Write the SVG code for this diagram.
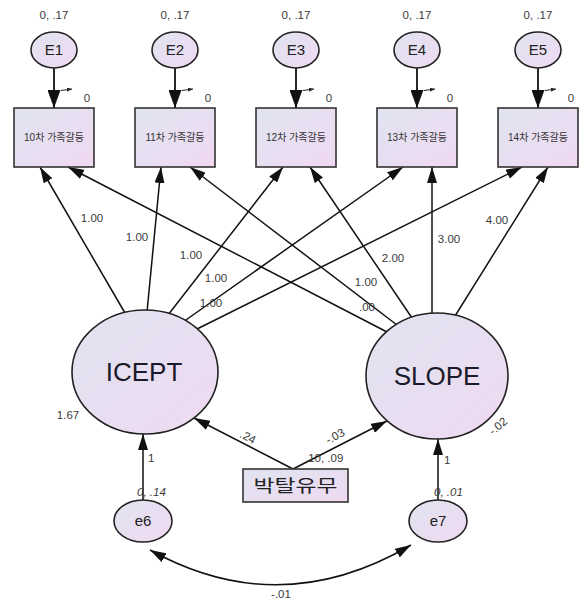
<svg xmlns="http://www.w3.org/2000/svg" width="581" height="603" viewBox="0 0 581 603">
  <defs>
    <linearGradient id="fillGrad" x1="0" y1="0" x2="1" y2="1">
      <stop offset="0" stop-color="#e0e4f1"/>
      <stop offset="1" stop-color="#f0d9f1"/>
    </linearGradient>
    <marker id="arrow" viewBox="0 0 16 10" refX="16" refY="5" markerWidth="16" markerHeight="10" markerUnits="userSpaceOnUse" orient="auto">
      <path d="M0,0 L16,5 L0,10 z" fill="#111"/>
    </marker>
    <marker id="arrowStart" viewBox="0 0 16 10" refX="0" refY="5" markerWidth="16" markerHeight="10" markerUnits="userSpaceOnUse" orient="auto">
      <path d="M16,0 L0,5 L16,10 z" fill="#111"/>
    </marker>
    <marker id="arrowBig" viewBox="0 0 18 13" refX="18" refY="6.5" markerWidth="18" markerHeight="13" markerUnits="userSpaceOnUse" orient="auto">
      <path d="M0,0 L18,6.5 L0,13 z" fill="#111"/>
    </marker>
    <marker id="tick" viewBox="0 0 5 4" refX="5" refY="2" markerWidth="5" markerHeight="4" markerUnits="userSpaceOnUse" orient="auto">
      <path d="M0,0 L5,2 L0,4 z" fill="#222"/>
    </marker>
    <style>
      .node { fill: url(#fillGrad); stroke: #222; stroke-width: 1.6; }
      .box { fill: url(#fillGrad); stroke: #333; stroke-width: 1.6; }
      .edge { fill: none; stroke: #111; stroke-width: 1.5; marker-end: url(#arrow); }
      .edgeBig { fill: none; stroke: #111; stroke-width: 1.8; marker-end: url(#arrowBig); }
      .cov { fill: none; stroke: #111; stroke-width: 1.5; marker-start: url(#arrowStart); marker-end: url(#arrow); }
      .mark { fill: none; stroke: #222; stroke-width: 1; marker-end: url(#tick); }
      .lbl { font-family: "Liberation Sans", Arial, sans-serif; font-size: 11.5px; fill: #3a3a3a; }
      .ital { font-style: italic; }
      .ename { font-family: "Liberation Sans", Arial, sans-serif; font-size: 15px; fill: #222; text-anchor: middle; }
      .obs { font-family: "Liberation Sans", "Noto Sans CJK KR", sans-serif; font-size: 10px; fill: #333; text-anchor: middle; }
      .big { font-family: "Liberation Sans", Arial, sans-serif; font-size: 26px; fill: #1a1a2a; text-anchor: middle; }
      .mid { text-anchor: middle; }
    </style>
  </defs>

  <rect width="581" height="603" fill="#ffffff"/>

  <!-- connectors -->
  <g id="connectors">
    <!-- error terms to observed variables -->
    <line class="edgeBig" x1="54" y1="68" x2="54" y2="108"/>
    <line class="edgeBig" x1="175" y1="68" x2="175" y2="108"/>
    <line class="edgeBig" x1="296" y1="68" x2="296" y2="108"/>
    <line class="edgeBig" x1="417" y1="68" x2="417" y2="108"/>
    <line class="edgeBig" x1="538" y1="68" x2="538" y2="108"/>

    <!-- intercept loadings -->
    <line class="edge" x1="125" y1="313" x2="40" y2="167"/>
    <line class="edge" x1="147" y1="312" x2="161" y2="167"/>
    <line class="edge" x1="168" y1="315" x2="283" y2="167"/>
    <line class="edge" x1="183" y1="322" x2="403" y2="167"/>
    <line class="edge" x1="195" y1="330" x2="522" y2="167"/>

    <!-- slope loadings -->
    <line class="edge" x1="387" y1="332" x2="68" y2="167"/>
    <line class="edge" x1="397" y1="325" x2="190" y2="167"/>
    <line class="edge" x1="412" y1="318" x2="310" y2="167"/>
    <line class="edge" x1="432" y1="313" x2="432" y2="167"/>
    <line class="edge" x1="455" y1="316" x2="548" y2="167"/>

    <!-- covariate paths -->
    <line class="edge" x1="293" y1="469" x2="194" y2="418"/>
    <line class="edge" x1="293" y1="469" x2="387" y2="421"/>

    <!-- residuals of growth factors -->
    <line class="edge" x1="143" y1="500" x2="143" y2="434"/>
    <line class="edge" x1="438" y1="500" x2="438" y2="439"/>

    <!-- residual covariance -->
    <path class="cov" d="M150,550 Q280,622 411,545"/>

    <!-- intercept ticks -->
    <line class="mark" x1="61" y1="90.5" x2="72" y2="89"/>
    <line class="mark" x1="182" y1="90.5" x2="193" y2="89"/>
    <line class="mark" x1="303" y1="90.5" x2="314" y2="89"/>
    <line class="mark" x1="424" y1="90.5" x2="435" y2="89"/>
    <line class="mark" x1="545" y1="90.5" x2="556" y2="89"/>
  </g>

  <!-- error terms E1..E5 -->
  <g id="E1"><ellipse class="node" cx="54" cy="50" rx="23" ry="18"/><text class="ename" x="54" y="55">E1</text><text class="lbl mid" x="54" y="19">0, .17</text></g>
  <g id="E2"><ellipse class="node" cx="175" cy="50" rx="23" ry="18"/><text class="ename" x="175" y="55">E2</text><text class="lbl mid" x="175" y="19">0, .17</text></g>
  <g id="E3"><ellipse class="node" cx="296" cy="50" rx="23" ry="18"/><text class="ename" x="296" y="55">E3</text><text class="lbl mid" x="296" y="19">0, .17</text></g>
  <g id="E4"><ellipse class="node" cx="417" cy="50" rx="23" ry="18"/><text class="ename" x="417" y="55">E4</text><text class="lbl mid" x="417" y="19">0, .17</text></g>
  <g id="E5"><ellipse class="node" cx="538" cy="50" rx="23" ry="18"/><text class="ename" x="538" y="55">E5</text><text class="lbl mid" x="538" y="19">0, .17</text></g>

  <!-- observed variables -->
  <g id="obs10"><rect class="box" x="14" y="108" width="80" height="59"/><text class="obs" x="54" y="141">10차 가족갈등</text><text class="lbl mid" x="87" y="102">0</text></g>
  <g id="obs11"><rect class="box" x="135" y="108" width="80" height="59"/><text class="obs" x="175" y="141">11차 가족갈등</text><text class="lbl mid" x="208" y="102">0</text></g>
  <g id="obs12"><rect class="box" x="256" y="108" width="80" height="59"/><text class="obs" x="296" y="141">12차 가족갈등</text><text class="lbl mid" x="329" y="102">0</text></g>
  <g id="obs13"><rect class="box" x="377" y="108" width="80" height="59"/><text class="obs" x="417" y="141">13차 가족갈등</text><text class="lbl mid" x="450" y="102">0</text></g>
  <g id="obs14"><rect class="box" x="498" y="108" width="80" height="59"/><text class="obs" x="538" y="141">14차 가족갈등</text><text class="lbl mid" x="571" y="102">0</text></g>

  <!-- growth factors -->
  <g id="ICEPT"><ellipse class="node" cx="145" cy="372" rx="73" ry="62"/><text class="big" x="144" y="381">ICEPT</text><text class="lbl mid" x="68" y="419">1.67</text></g>
  <g id="SLOPE"><ellipse class="node" cx="437" cy="376" rx="71" ry="63"/><text class="big" x="437" y="385">SLOPE</text><text class="lbl mid" transform="translate(498,426) rotate(-40)" y="4">-.02</text></g>

  <!-- covariate -->
  <g id="deprivation"><rect class="box" x="243" y="469" width="105" height="33" stroke-width="2"/><text x="295.5" y="492" font-family="'Noto Sans CJK KR', sans-serif" font-size="17" fill="#222" text-anchor="middle" textLength="84" lengthAdjust="spacingAndGlyphs">박탈유무</text></g>

  <!-- residuals -->
  <g id="e6"><ellipse class="node" cx="143" cy="521" rx="29" ry="21"/><text class="ename" x="143" y="526">e6</text></g>
  <g id="e7"><ellipse class="node" cx="438" cy="521" rx="29" ry="21"/><text class="ename" x="438" y="526">e7</text></g>

  <!-- path coefficients -->
  <g id="labels">
    <text class="lbl mid" x="92" y="222">1.00</text>
    <text class="lbl mid" x="137" y="241">1.00</text>
    <text class="lbl mid" x="191" y="259">1.00</text>
    <text class="lbl mid" x="216" y="282">1.00</text>
    <text class="lbl mid" x="211" y="307">1.00</text>
    <text class="lbl mid" x="393" y="262">2.00</text>
    <text class="lbl mid" x="366" y="286">1.00</text>
    <text class="lbl mid" x="367" y="311">.00</text>
    <text class="lbl mid" x="449" y="243">3.00</text>
    <text class="lbl mid" x="497" y="224">4.00</text>
    <text class="lbl mid" transform="translate(248,437) rotate(28)" y="4">.24</text>
    <text class="lbl mid" transform="translate(335,436) rotate(-28)" y="4">-.03</text>
    <text class="lbl" x="305" y="462">.10, .09</text>
    <text class="lbl" x="148" y="462">1</text>
    <text class="lbl" x="444" y="464">1</text>
    <text class="lbl ital" x="137" y="496">0, .14</text>
    <text class="lbl ital" x="434" y="496">0, .01</text>
    <text class="lbl mid" x="281" y="598">-.01</text>
  </g>
</svg>
